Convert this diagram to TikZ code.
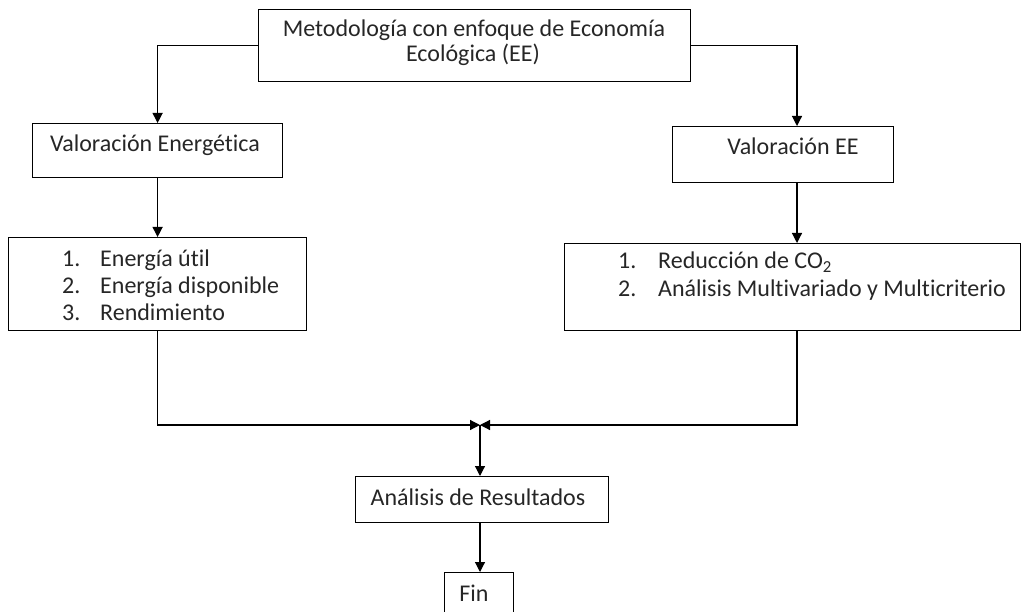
\documentclass[tikz,border=0pt]{standalone}
\usepackage{fontspec}
\setmainfont{Carlito}[Ligatures=NoCommon]
\usetikzlibrary{arrows.meta}
\begin{document}
\begin{tikzpicture}[x=1pt,y=-1pt,
  box/.style={draw, line width=1.2pt, inner sep=0pt, anchor=north west},
  lbl/.style={inner sep=0pt, anchor=base, text=black!85, font=\fontsize{24}{28}\selectfont},
  llbl/.style={lbl, anchor=base west},
  conn/.style={line width=1.2pt, -{Triangle[length=10pt,width=10pt]}}]
\useasboundingbox (0,0) rectangle (1027,612);
% boxes
\node[box, minimum width=432pt, minimum height=72pt] (top) at (258,9) {};
\node[box, minimum width=250pt, minimum height=54pt] (ve) at (32,123) {};
\node[box, minimum width=298pt, minimum height=93pt] (li) at (8,237) {};
\node[box, minimum width=221pt, minimum height=56pt] (vee) at (672,126) {};
\node[box, minimum width=456pt, minimum height=87pt] (ri) at (564,243) {};
\node[box, minimum width=253pt, minimum height=46pt] (ar) at (355,476) {};
\node[box, minimum width=69pt, minimum height=40pt] (fin) at (444,572) {};
% texts
\node[lbl] (t1) at (474,37) {Metodología con enfoque de Economía};
\node[lbl] (t2) at (473,62) {Ecológica (EE)};
\node[lbl] (tve) at (155,152) {Valoración Energética};
\node[llbl] (l1n) at (62,266) {1.};
\node[llbl] (l1) at (100,266) {Energía útil};
\node[llbl] (l2n) at (62,293) {2.};
\node[llbl] (l2) at (100,293) {Energía disponible};
\node[llbl] (l3n) at (62,320) {3.};
\node[llbl] (l3) at (100,320) {Rendimiento};
\node[lbl] (tvee) at (793,155) {Valoración EE};
\node[llbl] (r1n) at (618,269) {1.};
\node[llbl] (r1) at (658,269) {Reducción de CO\textsubscript{2}};
\node[llbl] (r2n) at (618,296) {2.};
\node[llbl] (r2) at (658,296) {Análisis Multivariado y Multicriterio};
\node[lbl] (tar) at (478,505) {Análisis de Resultados};
\node[lbl] (tfin) at (474,601) {Fin};
% connectors
\coordinate (rin) at (797,126);
\coordinate (m) at (480,425);
\draw[conn] (top.west) -| (ve.north);
\draw[conn] (top.east) -| (rin);
\draw[conn] (ve.south) -- (li.north);
\draw[conn] (vee.south -| rin) -- (ri.north -| rin);
\draw[conn] (li.south) |- (m);
\draw[conn] (ri.south -| rin) |- (m);
\draw[conn] (m) -- (ar.north -| m);
\draw[conn] (ar.south -| m) -- (fin.north -| m);
\end{tikzpicture}
\end{document}
